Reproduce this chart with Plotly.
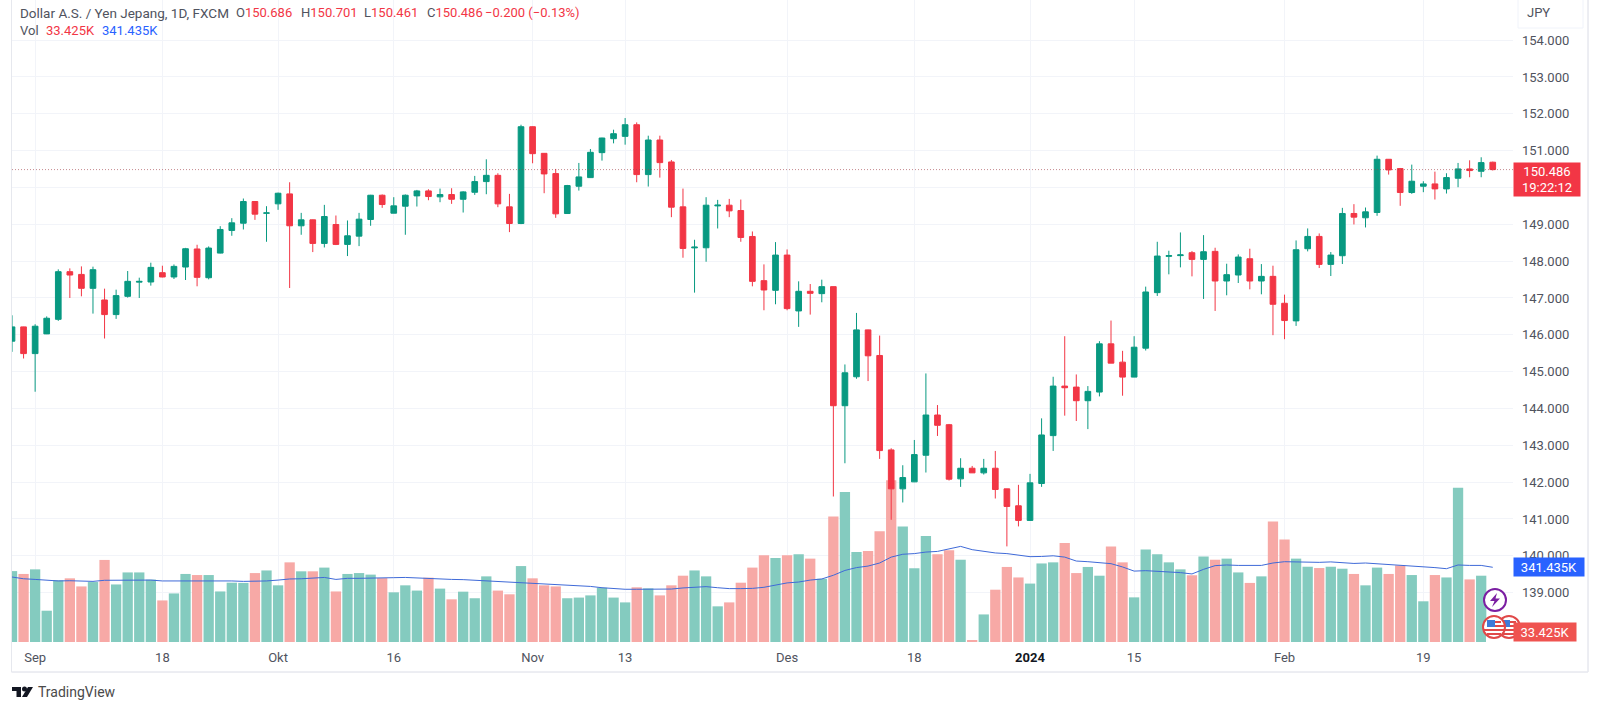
import pandas as pd
import plotly.graph_objects as go

# trading days, market shut on new year's day
dates = pd.bdate_range("2023-08-30", "2024-02-27")
dates = [d.strftime("%Y-%m-%d") for d in dates if d.strftime("%Y-%m-%d") != "2024-01-01"]

opens = [145.827, 146.215, 145.49, 146.025, 146.42, 147.714, 147.64, 147.262, 146.946, 146.549,
    147.045, 147.43, 147.434, 147.687, 147.57, 147.84, 148.33, 147.55, 148.219, 148.833,
    149.03, 149.619, 149.30, 149.556, 149.826, 148.96, 149.122, 148.481, 148.995, 148.454,
    148.679, 149.131, 149.79, 149.302, 149.492, 149.772, 149.907, 149.745, 149.808, 149.68,
    149.87, 150.16, 150.33, 149.474, 149.022, 151.65, 150.927, 150.377, 149.293, 150.034,
    150.268, 150.946, 151.325, 151.388, 151.704, 150.35, 151.289, 150.693, 149.474, 148.36,
    148.363, 149.50, 149.519, 149.374, 148.67, 147.47, 147.208, 148.165, 146.648, 147.181,
    147.118, 147.308, 144.075, 144.861, 146.134, 145.439, 142.875, 141.818, 142.008, 142.73,
    143.823, 143.56, 142.089, 142.378, 142.252, 142.378, 141.818, 141.358, 140.961, 141.963,
    143.263, 144.608, 144.581, 144.211, 144.446, 145.755, 145.258, 144.852, 145.637, 147.145,
    148.13, 148.15, 148.229, 148.048, 148.265, 147.461, 147.624, 148.066, 147.461, 147.587,
    146.856, 146.378, 148.337, 148.671, 147.912, 148.147, 149.294, 149.177, 149.321, 150.766,
    150.513, 149.863, 150.034, 150.097, 149.962, 150.251, 150.504, 150.44, 150.686]
highs = [146.53, 146.22, 146.287, 146.50, 147.777, 147.804, 147.858, 147.85, 147.253, 147.226,
    147.732, 147.551, 147.958, 147.876, 147.91, 148.36, 148.445, 148.40, 148.95, 149.167,
    149.70, 149.63, 149.492, 149.86, 150.142, 149.311, 149.13, 149.528, 149.239, 149.104,
    149.311, 149.80, 149.81, 149.736, 149.81, 149.934, 149.952, 149.97, 149.98, 149.898,
    150.314, 150.765, 150.386, 149.826, 151.704, 151.66, 150.93, 150.503, 150.07, 150.666,
    151.045, 151.35, 151.569, 151.885, 151.767, 151.406, 151.406, 150.747, 149.97, 148.58,
    149.736, 149.663, 149.69, 149.672, 148.806, 147.912, 148.517, 148.318, 147.452, 147.379,
    147.497, 147.31, 145.195, 146.594, 146.14, 145.98, 142.92, 142.459, 143.145, 144.951,
    144.093, 143.58, 142.649, 142.44, 142.631, 142.847, 141.82, 141.927, 142.225, 143.732,
    144.861, 145.962, 144.924, 144.608, 145.827, 146.387, 145.565, 145.962, 147.308, 148.526,
    148.283, 148.779, 148.274, 148.707, 148.364, 147.93, 148.183, 148.337, 147.92, 147.876,
    147.091, 148.562, 148.888, 148.752, 148.247, 149.447, 149.547, 149.456, 150.865, 150.77,
    150.53, 150.621, 150.17, 150.431, 150.386, 150.666, 150.738, 150.82, 150.701]
lows = [145.538, 145.357, 144.455, 146.02, 146.378, 147.00, 147.045, 146.576, 145.899, 146.432,
    147.01, 147.00, 147.335, 147.56, 147.515, 147.488, 147.317, 147.506, 148.21, 148.689,
    148.86, 149.12, 148.526, 149.393, 147.271, 148.716, 148.246, 148.372, 148.436, 148.138,
    148.408, 148.96, 149.447, 149.30, 148.716, 149.483, 149.654, 149.60, 149.555, 149.32,
    149.799, 149.817, 149.465, 148.788, 149.005, 150.657, 149.844, 149.176, 149.29, 149.916,
    150.26, 150.729, 151.198, 151.162, 150.142, 150.025, 150.268, 149.194, 148.093, 147.145,
    147.984, 148.887, 149.194, 148.526, 147.316, 146.666, 146.829, 146.666, 146.215, 146.549,
    146.883, 141.61, 142.513, 144.807, 144.744, 142.631, 140.979, 141.448, 142.00, 142.261,
    143.254, 142.044, 141.872, 142.25, 142.207, 141.556, 140.256, 140.798, 140.95, 141.872,
    142.847, 143.805, 143.66, 143.44, 144.328, 145.23, 144.346, 144.85, 145.574, 147.055,
    147.642, 147.831, 147.587, 146.974, 146.648, 147.073, 147.407, 147.235, 147.10, 145.99,
    145.881, 146.242, 148.265, 147.813, 147.596, 147.922, 148.996, 148.915, 149.231, 150.35,
    149.502, 149.827, 149.872, 149.673, 149.836, 150.007, 150.278, 150.278, 150.461]
closes = [146.215, 145.49, 146.233, 146.45, 147.714, 147.623, 147.262, 147.768, 146.549, 147.064,
    147.452, 147.45, 147.831, 147.57, 147.858, 148.337, 147.56, 148.355, 148.86, 149.04,
    149.619, 149.276, 149.31, 149.844, 148.96, 149.122, 148.481, 149.212, 148.454, 148.688,
    149.14, 149.79, 149.537, 149.501, 149.79, 149.907, 149.754, 149.808, 149.68, 149.88,
    150.16, 150.33, 149.555, 149.022, 151.65, 150.918, 150.368, 149.284, 150.052, 150.287,
    150.955, 151.343, 151.46, 151.704, 150.35, 151.289, 150.675, 149.465, 148.345, 148.38,
    149.519, 149.52, 149.365, 148.643, 147.451, 147.217, 148.165, 146.711, 147.181, 147.126,
    147.308, 144.075, 144.969, 146.134, 145.43, 142.857, 141.818, 142.125, 142.748, 143.823,
    143.543, 142.08, 142.378, 142.252, 142.378, 141.8, 141.34, 140.961, 141.981, 143.281,
    144.608, 144.563, 144.211, 144.464, 145.755, 145.231, 144.852, 145.664, 147.163, 148.138,
    148.15, 148.17, 148.048, 148.256, 147.461, 147.633, 148.111, 147.461, 147.587, 146.829,
    146.387, 148.31, 148.671, 147.912, 148.165, 149.294, 149.195, 149.339, 150.766, 150.477,
    149.863, 150.17, 150.097, 149.962, 150.269, 150.504, 150.459, 150.675, 150.486]

# volume and its moving average, in thousands
volumes = [324, 311, 332, 143, 282, 291, 254, 274, 375, 263,
    318, 318, 285, 190, 222, 311, 306, 306, 231, 271,
    270, 315, 327, 259, 364, 323, 323, 340, 231, 311,
    315, 308, 292, 227, 259, 235, 294, 244, 195, 230,
    200, 300, 235, 218, 347, 291, 259, 254, 200, 203,
    213, 248, 203, 181, 250, 245, 213, 259, 303, 327,
    300, 163, 181, 271, 340, 396, 384, 396, 401, 381,
    289, 574, 685, 411, 416, 506, 739, 528, 337, 484,
    401, 419, 376, 6, 126, 239, 343, 295, 267, 359,
    364, 452, 315, 343, 303, 437, 364, 204, 423, 401,
    364, 332, 305, 391, 376, 381, 318, 270, 300, 551,
    469, 381, 344, 338, 344, 335, 311, 259, 340, 311,
    350, 306, 186, 306, 295, 705, 286, 303, 33.425]
vol_ma = [297, 289, 286, 282, 279, 280, 277, 277, 282, 282,
    283, 283, 283, 279, 279, 279, 280, 282, 280, 279,
    277, 277, 279, 283, 288, 289, 292, 295, 286, 291,
    291, 291, 292, 294, 295, 292, 289, 288, 286, 285,
    282, 280, 276, 273, 271, 270, 267, 262, 259, 257,
    254, 248, 244, 241, 241, 241, 239, 242, 247, 251,
    253, 248, 244, 244, 245, 250, 259, 270, 274, 283,
    288, 305, 327, 340, 347, 361, 388, 401, 404, 411,
    414, 426, 437, 422, 413, 407, 404, 398, 390, 391,
    394, 388, 370, 367, 361, 358, 343, 324, 326, 323,
    321, 317, 311, 332, 349, 352, 350, 349, 350, 361,
    367, 366, 364, 364, 366, 361, 359, 361, 358, 353,
    352, 349, 344, 340, 335, 352, 350, 350, 341.435]

price_ticks = list(range(139, 155))
tick_dates = ["2023-09-01", "2023-09-18", "2023-10-02", "2023-10-16", "2023-11-01", "2023-11-13",
    "2023-12-01", "2023-12-18", "2024-01-02", "2024-01-15", "2024-02-01", "2024-02-19"]
tick_labels = ["Sep", "18", "Okt", "16", "Nov", "13", "Des", "18",
    "<span style='color:#131722'><b>2024</b></span>", "15", "Feb", "19"]

UP = "#089981"
DOWN = "#F23645"
VOL_UP = "#84CBBF"
VOL_DOWN = "#F7A9A6"
TEXT = "#50535E"
GRID = "#F2F4F9"
BORDER = "#E6E8EE"
FONT = "Roboto"

W, H = 1600, 711
L, R, T, B = 12, 1513, 0, 642


# page pixels to paper coordinates, for the furniture around the chart
def px(x):
    return (x - L) / (R - L)


def py(y):
    return (B - y) / (B - T)


def poly(points, color):
    path = "M" + " L".join(f"{px(a):.5f},{py(b):.5f}" for a, b in points) + " Z"
    return dict(type="path", xref="paper", yref="paper", path=path, fillcolor=color,
        line=dict(width=0), layer="above")


def circle(cx, cy, r, line, fill="white"):
    return dict(type="circle", xref="paper", yref="paper", x0=px(cx - r), x1=px(cx + r),
        y0=py(cy + r), y1=py(cy - r), fillcolor=fill, line=dict(color=line, width=2), layer="above")


def rect(x0, y0, x1, y1, fill, line=None):
    return dict(type="rect", xref="paper", yref="paper", x0=px(x0), x1=px(x1), y0=py(y1), y1=py(y0),
        fillcolor=fill, line=dict(color=line or fill, width=1 if line else 0), layer="above")


def flag(cx, cy):
    return [
        circle(cx, cy, 11, "#E04848"),
        rect(cx - 7, cy - 7, cx + 1, cy, "#3D7BD9"),
        rect(cx + 1, cy - 6, cx + 7, cy - 4, "#E04848"),
        rect(cx + 1, cy - 2, cx + 10, cy, "#E04848"),
        rect(cx - 10, cy + 2, cx + 10, cy + 4, "#E04848"),
        rect(cx - 7, cy + 6, cx + 7, cy + 8, "#E04848"),
    ]


def label(x, y, text, color=TEXT, size=13, anchor="left"):
    return dict(xref="paper", yref="paper", x=px(x), y=py(y), text=text, showarrow=False,
        xanchor=anchor, yanchor="middle", font=dict(family=FONT, size=size, color=color))


vol_colors = [VOL_UP if c >= o else VOL_DOWN for o, c in zip(opens, closes)]

fig = go.Figure()
fig.add_trace(go.Bar(x=dates, y=volumes, marker=dict(color=vol_colors, line=dict(width=0)), yaxis="y"))
fig.add_trace(go.Scatter(x=dates, y=vol_ma, mode="lines", line=dict(color="#3F6AD8", width=1), yaxis="y"))
fig.add_trace(go.Candlestick(x=dates, open=opens, high=highs, low=lows, close=closes, yaxis="y2",
    increasing=dict(line=dict(color=UP, width=1), fillcolor=UP),
    decreasing=dict(line=dict(color=DOWN, width=1), fillcolor=DOWN)))

fig.update_layout(
    width=W, height=H,
    margin=dict(l=L, r=W - R, t=T, b=H - B, pad=0),
    paper_bgcolor="white", plot_bgcolor="white",
    showlegend=False, hovermode=False, bargap=0.11,
    font=dict(family=FONT, size=13, color=TEXT),
    xaxis=dict(type="category", categoryorder="array", categoryarray=dates, range=[0, 129.75],
        rangeslider=dict(visible=False), tickmode="array", tickvals=tick_dates, ticktext=tick_labels,
        showgrid=True, gridcolor=GRID, gridwidth=1, zeroline=False, showline=False, ticks="",
        ticklabelstandoff=6),
    yaxis=dict(range=[0, 2934], visible=False, showgrid=False, zeroline=False),
    yaxis2=dict(overlaying="y", side="right", range=[137.66, 155.09], tickmode="array", tickvals=price_ticks,
        ticktext=[f"{p}.000" for p in price_ticks], showgrid=True, gridcolor=GRID, gridwidth=1,
        zeroline=False, showline=False, ticks="", ticklabelstandoff=8),
)

fig.add_hline(y=closes[-1], yref="y2", line=dict(color="rgba(160,60,70,0.75)", width=0.8, dash="1px,2px"))

shapes = [
    # outer frame
    rect(11.5, 0, 11.5, 672, BORDER, BORDER),
    rect(11.5, 672, 1588, 672, BORDER, BORDER),
    rect(1588, 0, 1588, 672, BORDER, BORDER),
    # currency box
    dict(type="rect", xref="paper", yref="paper", x0=px(1518), x1=px(1583), y0=py(28), y1=py(-4),
        fillcolor="white", line=dict(color="#F0F3FA", width=1), layer="above"),
    # event icons, the newest flag hides the stub of the last volume bar
    rect(1486, 634, 1502, 642, "white"),
    *flag(1509, 627),
    circle(1495, 600, 11, "#7B1FA2"),
    poly([(1497, 593), (1490, 601), (1494.5, 601), (1492, 607), (1500, 598.5), (1495.5, 598.5)], "#7B1FA2"),
    *flag(1494, 627),
    # TradingView mark
    poly([(12, 687), (21, 687), (21, 697), (16.5, 697), (16.5, 691), (12, 691)], "#131722"),
    circle(24.5, 689, 1.5, "#131722", "#131722"),
    poly([(28, 687), (33, 687), (27, 697), (22, 697)], "#131722"),
]
fig.update_layout(shapes=list(fig.layout.shapes) + shapes)

annotations = [
    label(18, 13, "Dollar A.S. / Yen Jepang, 1D, FXCM", size=13.5),
    label(234, 13, f"O<span style='color:{DOWN}'>150.686</span>"),
    label(299, 13, f"H<span style='color:{DOWN}'>150.701</span>"),
    label(362, 13, f"L<span style='color:{DOWN}'>150.461</span>"),
    label(425, 13, f"C<span style='color:{DOWN}'>150.486</span>"),
    label(483, 13, "−0.200 (−0.13%)", DOWN),
    label(18, 31, "Vol"),
    label(44, 31, "33.425K", DOWN),
    label(100, 31, "341.435K", "#2962FF"),
    label(1525, 13, "JPY"),
    label(36, 692, "TradingView", "#4A4A4A", 14),
    # last price and volume tags
    dict(xref="paper", x=1, xanchor="left", yref="y2", y=closes[-1], yanchor="top", yshift=8,
        text="150.486<br>19:22:12", showarrow=False, bgcolor=DOWN, width=66, height=33, align="center",
        borderpad=0, font=dict(family=FONT, size=13, color="white")),
    dict(xref="paper", x=1, xanchor="left", yref="y", y=vol_ma[-1], yanchor="middle",
        text="341.435K", showarrow=False, bgcolor="#2962FF", width=70, height=18, align="center",
        borderpad=0, font=dict(family=FONT, size=13, color="white")),
    dict(xref="paper", x=1, xanchor="left", yref="paper", y=py(632), yanchor="middle",
        text="33.425K", showarrow=False, bgcolor="#EF5350", width=62, height=18, align="center",
        borderpad=0, font=dict(family=FONT, size=13, color="white")),
]
fig.update_layout(annotations=annotations)

fig.write_html("out.html", config={"displayModeBar": False}, post_script="document.body.style.margin='0';")
